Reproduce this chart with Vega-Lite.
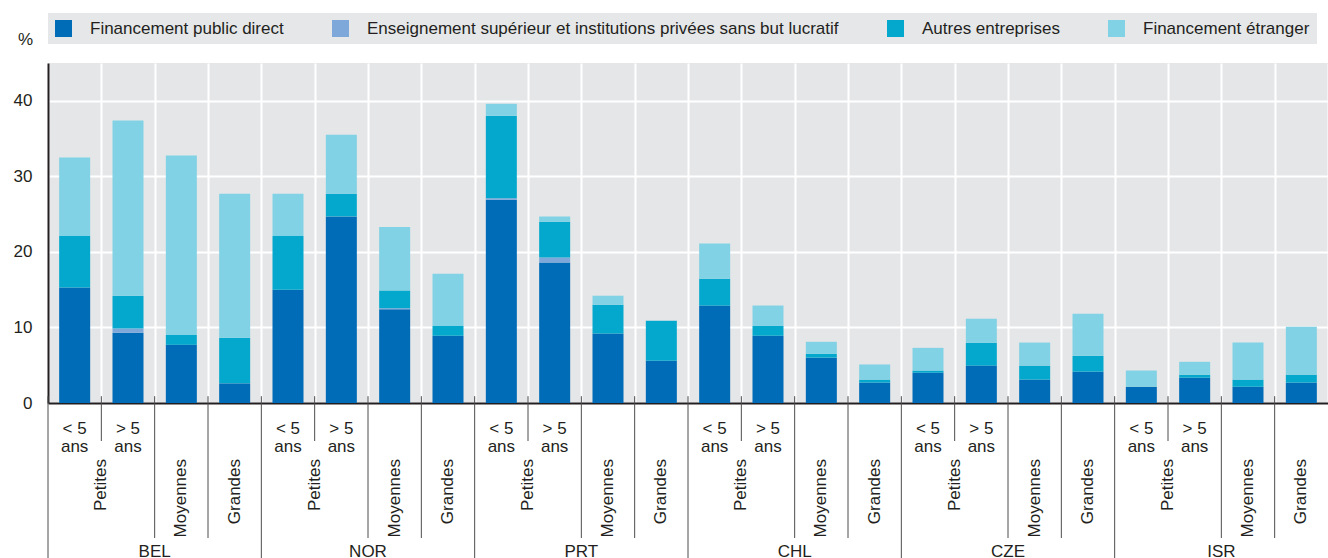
{
  "$schema": "https://vega.github.io/schema/vega-lite/v6.json",
  "width": 1280,
  "height": 340,
  "autosize": "none",
  "padding": {"left": 48, "top": 63, "right": 0, "bottom": 155},
  "background": "#ffffff",
  "config": {
    "view": {"fill": "#e5e6e8", "stroke": null},
    "font": "Liberation Sans",
    "axis": {"labelFont": "Liberation Sans", "labelFontSize": 17, "labelColor": "#231f20", "titleFont": "Liberation Sans", "titleFontSize": 17, "titleFontWeight": "normal", "titleColor": "#231f20"},
    "axisY": {"tickCount": 9, "gridColor": "#ffffff", "gridWidth": 2, "domainColor": "#231f20", "domainWidth": 2, "ticks": false, "labelPadding": 16},
    "legend": {
      "orient": "top", "direction": "horizontal", "title": null,
      "fillColor": "#e6e7e9", "padding": 7, "offset": 19, "columnPadding": 48,
      "labelFont": "Liberation Sans", "labelFontSize": 17, "labelColor": "#231f20", "labelLimit": 800,
      "symbolType": "square", "symbolSize": 289, "symbolStrokeWidth": 0, "symbolOpacity": 1, "labelOffset": 18
    }
  },
  "datasets": {
    "valeurs": [
      {"barre": "BEL Petites < 5 ans", "serie": "Financement public direct", "ordre": 1, "valeur": 15.3},
      {"barre": "BEL Petites < 5 ans", "serie": "Autres entreprises", "ordre": 3, "valeur": 6.8},
      {"barre": "BEL Petites < 5 ans", "serie": "Financement étranger", "ordre": 4, "valeur": 10.4},
      {"barre": "BEL Petites > 5 ans", "serie": "Financement public direct", "ordre": 1, "valeur": 9.3},
      {"barre": "BEL Petites > 5 ans", "serie": "Enseignement supérieur et institutions privées sans but lucratif", "ordre": 2, "valeur": 0.55},
      {"barre": "BEL Petites > 5 ans", "serie": "Autres entreprises", "ordre": 3, "valeur": 4.35},
      {"barre": "BEL Petites > 5 ans", "serie": "Financement étranger", "ordre": 4, "valeur": 23.2},
      {"barre": "BEL Moyennes", "serie": "Financement public direct", "ordre": 1, "valeur": 7.7},
      {"barre": "BEL Moyennes", "serie": "Autres entreprises", "ordre": 3, "valeur": 1.3},
      {"barre": "BEL Moyennes", "serie": "Financement étranger", "ordre": 4, "valeur": 23.75},
      {"barre": "BEL Grandes", "serie": "Financement public direct", "ordre": 1, "valeur": 2.6},
      {"barre": "BEL Grandes", "serie": "Autres entreprises", "ordre": 3, "valeur": 6.05},
      {"barre": "BEL Grandes", "serie": "Financement étranger", "ordre": 4, "valeur": 19.05},
      {"barre": "NOR Petites < 5 ans", "serie": "Financement public direct", "ordre": 1, "valeur": 15.0},
      {"barre": "NOR Petites < 5 ans", "serie": "Autres entreprises", "ordre": 3, "valeur": 7.1},
      {"barre": "NOR Petites < 5 ans", "serie": "Financement étranger", "ordre": 4, "valeur": 5.6},
      {"barre": "NOR Petites > 5 ans", "serie": "Financement public direct", "ordre": 1, "valeur": 24.7},
      {"barre": "NOR Petites > 5 ans", "serie": "Autres entreprises", "ordre": 3, "valeur": 3.0},
      {"barre": "NOR Petites > 5 ans", "serie": "Financement étranger", "ordre": 4, "valeur": 7.8},
      {"barre": "NOR Moyennes", "serie": "Financement public direct", "ordre": 1, "valeur": 12.4},
      {"barre": "NOR Moyennes", "serie": "Enseignement supérieur et institutions privées sans but lucratif", "ordre": 2, "valeur": 0.15},
      {"barre": "NOR Moyennes", "serie": "Autres entreprises", "ordre": 3, "valeur": 2.35},
      {"barre": "NOR Moyennes", "serie": "Financement étranger", "ordre": 4, "valeur": 8.4},
      {"barre": "NOR Grandes", "serie": "Financement public direct", "ordre": 1, "valeur": 8.9},
      {"barre": "NOR Grandes", "serie": "Autres entreprises", "ordre": 3, "valeur": 1.3},
      {"barre": "NOR Grandes", "serie": "Financement étranger", "ordre": 4, "valeur": 6.9},
      {"barre": "PRT Petites < 5 ans", "serie": "Financement public direct", "ordre": 1, "valeur": 26.9},
      {"barre": "PRT Petites < 5 ans", "serie": "Enseignement supérieur et institutions privées sans but lucratif", "ordre": 2, "valeur": 0.2},
      {"barre": "PRT Petites < 5 ans", "serie": "Autres entreprises", "ordre": 3, "valeur": 10.9},
      {"barre": "PRT Petites < 5 ans", "serie": "Financement étranger", "ordre": 4, "valeur": 1.6},
      {"barre": "PRT Petites > 5 ans", "serie": "Financement public direct", "ordre": 1, "valeur": 18.6},
      {"barre": "PRT Petites > 5 ans", "serie": "Enseignement supérieur et institutions privées sans but lucratif", "ordre": 2, "valeur": 0.65},
      {"barre": "PRT Petites > 5 ans", "serie": "Autres entreprises", "ordre": 3, "valeur": 4.75},
      {"barre": "PRT Petites > 5 ans", "serie": "Financement étranger", "ordre": 4, "valeur": 0.7},
      {"barre": "PRT Moyennes", "serie": "Financement public direct", "ordre": 1, "valeur": 9.2},
      {"barre": "PRT Moyennes", "serie": "Autres entreprises", "ordre": 3, "valeur": 3.8},
      {"barre": "PRT Moyennes", "serie": "Financement étranger", "ordre": 4, "valeur": 1.2},
      {"barre": "PRT Grandes", "serie": "Financement public direct", "ordre": 1, "valeur": 5.6},
      {"barre": "PRT Grandes", "serie": "Autres entreprises", "ordre": 3, "valeur": 5.3},
      {"barre": "CHL Petites < 5 ans", "serie": "Financement public direct", "ordre": 1, "valeur": 12.9},
      {"barre": "CHL Petites < 5 ans", "serie": "Autres entreprises", "ordre": 3, "valeur": 3.55},
      {"barre": "CHL Petites < 5 ans", "serie": "Financement étranger", "ordre": 4, "valeur": 4.65},
      {"barre": "CHL Petites > 5 ans", "serie": "Financement public direct", "ordre": 1, "valeur": 8.9},
      {"barre": "CHL Petites > 5 ans", "serie": "Autres entreprises", "ordre": 3, "valeur": 1.3},
      {"barre": "CHL Petites > 5 ans", "serie": "Financement étranger", "ordre": 4, "valeur": 2.7},
      {"barre": "CHL Moyennes", "serie": "Financement public direct", "ordre": 1, "valeur": 6.0},
      {"barre": "CHL Moyennes", "serie": "Autres entreprises", "ordre": 3, "valeur": 0.5},
      {"barre": "CHL Moyennes", "serie": "Financement étranger", "ordre": 4, "valeur": 1.6},
      {"barre": "CHL Grandes", "serie": "Financement public direct", "ordre": 1, "valeur": 2.7},
      {"barre": "CHL Grandes", "serie": "Autres entreprises", "ordre": 3, "valeur": 0.4},
      {"barre": "CHL Grandes", "serie": "Financement étranger", "ordre": 4, "valeur": 2.0},
      {"barre": "CZE Petites < 5 ans", "serie": "Financement public direct", "ordre": 1, "valeur": 4.0},
      {"barre": "CZE Petites < 5 ans", "serie": "Autres entreprises", "ordre": 3, "valeur": 0.3},
      {"barre": "CZE Petites < 5 ans", "serie": "Financement étranger", "ordre": 4, "valeur": 3.0},
      {"barre": "CZE Petites > 5 ans", "serie": "Financement public direct", "ordre": 1, "valeur": 4.95},
      {"barre": "CZE Petites > 5 ans", "serie": "Autres entreprises", "ordre": 3, "valeur": 3.0},
      {"barre": "CZE Petites > 5 ans", "serie": "Financement étranger", "ordre": 4, "valeur": 3.2},
      {"barre": "CZE Moyennes", "serie": "Financement public direct", "ordre": 1, "valeur": 3.1},
      {"barre": "CZE Moyennes", "serie": "Autres entreprises", "ordre": 3, "valeur": 1.85},
      {"barre": "CZE Moyennes", "serie": "Financement étranger", "ordre": 4, "valeur": 3.05},
      {"barre": "CZE Grandes", "serie": "Financement public direct", "ordre": 1, "valeur": 4.15},
      {"barre": "CZE Grandes", "serie": "Autres entreprises", "ordre": 3, "valeur": 2.1},
      {"barre": "CZE Grandes", "serie": "Financement étranger", "ordre": 4, "valeur": 5.55},
      {"barre": "ISR Petites < 5 ans", "serie": "Financement public direct", "ordre": 1, "valeur": 2.15},
      {"barre": "ISR Petites < 5 ans", "serie": "Financement étranger", "ordre": 4, "valeur": 2.15},
      {"barre": "ISR Petites > 5 ans", "serie": "Financement public direct", "ordre": 1, "valeur": 3.35},
      {"barre": "ISR Petites > 5 ans", "serie": "Autres entreprises", "ordre": 3, "valeur": 0.4},
      {"barre": "ISR Petites > 5 ans", "serie": "Financement étranger", "ordre": 4, "valeur": 1.7},
      {"barre": "ISR Moyennes", "serie": "Financement public direct", "ordre": 1, "valeur": 2.15},
      {"barre": "ISR Moyennes", "serie": "Autres entreprises", "ordre": 3, "valeur": 0.95},
      {"barre": "ISR Moyennes", "serie": "Financement étranger", "ordre": 4, "valeur": 4.9},
      {"barre": "ISR Grandes", "serie": "Financement public direct", "ordre": 1, "valeur": 2.7},
      {"barre": "ISR Grandes", "serie": "Autres entreprises", "ordre": 3, "valeur": 1.05},
      {"barre": "ISR Grandes", "serie": "Financement étranger", "ordre": 4, "valeur": 6.35}
    ],
    "ages": [
      {"barre": "BEL Petites < 5 ans", "texte": "< 5\nans"}, {"barre": "BEL Petites > 5 ans", "texte": "> 5\nans"},
      {"barre": "NOR Petites < 5 ans", "texte": "< 5\nans"}, {"barre": "NOR Petites > 5 ans", "texte": "> 5\nans"},
      {"barre": "PRT Petites < 5 ans", "texte": "< 5\nans"}, {"barre": "PRT Petites > 5 ans", "texte": "> 5\nans"},
      {"barre": "CHL Petites < 5 ans", "texte": "< 5\nans"}, {"barre": "CHL Petites > 5 ans", "texte": "> 5\nans"},
      {"barre": "CZE Petites < 5 ans", "texte": "< 5\nans"}, {"barre": "CZE Petites > 5 ans", "texte": "> 5\nans"},
      {"barre": "ISR Petites < 5 ans", "texte": "< 5\nans"}, {"barre": "ISR Petites > 5 ans", "texte": "> 5\nans"}
    ],
    "petites": [
      {"barre": "BEL Petites < 5 ans", "texte": "Petites"}, {"barre": "NOR Petites < 5 ans", "texte": "Petites"},
      {"barre": "PRT Petites < 5 ans", "texte": "Petites"}, {"barre": "CHL Petites < 5 ans", "texte": "Petites"},
      {"barre": "CZE Petites < 5 ans", "texte": "Petites"}, {"barre": "ISR Petites < 5 ans", "texte": "Petites"}
    ],
    "autres_tailles": [
      {"barre": "BEL Moyennes", "texte": "Moyennes"}, {"barre": "BEL Grandes", "texte": "Grandes"},
      {"barre": "NOR Moyennes", "texte": "Moyennes"}, {"barre": "NOR Grandes", "texte": "Grandes"},
      {"barre": "PRT Moyennes", "texte": "Moyennes"}, {"barre": "PRT Grandes", "texte": "Grandes"},
      {"barre": "CHL Moyennes", "texte": "Moyennes"}, {"barre": "CHL Grandes", "texte": "Grandes"},
      {"barre": "CZE Moyennes", "texte": "Moyennes"}, {"barre": "CZE Grandes", "texte": "Grandes"},
      {"barre": "ISR Moyennes", "texte": "Moyennes"}, {"barre": "ISR Grandes", "texte": "Grandes"}
    ],
    "pays": [
      {"barre": "BEL Petites > 5 ans", "texte": "BEL"}, {"barre": "NOR Petites > 5 ans", "texte": "NOR"},
      {"barre": "PRT Petites > 5 ans", "texte": "PRT"}, {"barre": "CHL Petites > 5 ans", "texte": "CHL"},
      {"barre": "CZE Petites > 5 ans", "texte": "CZE"}, {"barre": "ISR Petites > 5 ans", "texte": "ISR"}
    ]
  },
  "layer": [
    {
      "data": {"name": "valeurs"},
      "mark": {"type": "bar", "width": 31},
      "encoding": {
        "x": {"field": "barre", "type": "nominal", "sort": null,
          "scale": {"paddingInner": 0, "paddingOuter": 0, "domain": [
            "BEL Petites < 5 ans", "BEL Petites > 5 ans", "BEL Moyennes", "BEL Grandes",
            "NOR Petites < 5 ans", "NOR Petites > 5 ans", "NOR Moyennes", "NOR Grandes",
            "PRT Petites < 5 ans", "PRT Petites > 5 ans", "PRT Moyennes", "PRT Grandes",
            "CHL Petites < 5 ans", "CHL Petites > 5 ans", "CHL Moyennes", "CHL Grandes",
            "CZE Petites < 5 ans", "CZE Petites > 5 ans", "CZE Moyennes", "CZE Grandes",
            "ISR Petites < 5 ans", "ISR Petites > 5 ans", "ISR Moyennes", "ISR Grandes"]},
          "axis": {"orient": "bottom", "title": null, "tickBand": "extent", "grid": true, "gridColor": "#ffffff", "gridWidth": 2,
            "ticks": false, "labels": false, "domain": true, "domainColor": "#231f20", "domainWidth": 2}},
        "y": {"field": "valeur", "type": "quantitative", "stack": "zero", "title": "%",
          "scale": {"domain": [0, 45], "nice": false},
          "axis": {"values": [0, 5, 10, 15, 20, 25, 30, 35, 40, 45], "titleAngle": 0, "titleAlign": "center", "titleBaseline": "alphabetic", "titleX": -23, "titleY": -19,
            "domainColor": "#231f20", "domainWidth": 2, "ticks": false, "labelPadding": 16,
            "gridColor": "#ffffff", "gridWidth": 2}},
        "color": {"field": "serie", "type": "nominal",
          "scale": {"domain": ["Financement public direct", "Enseignement supérieur et institutions privées sans but lucratif", "Autres entreprises", "Financement étranger"],
                    "range": ["#006bb6", "#7ea7da", "#04a8cc", "#80d2e4"]}},
        "order": {"field": "ordre", "type": "quantitative", "sort": "ascending"}
      }
    },
    {
      "data": {"name": "pays"},
      "mark": {"type": "rule", "color": "#4d4d4d", "strokeWidth": 1},
      "encoding": {
        "x": {"field": "barre", "type": "nominal", "bandPosition": 0},
        "y": {"datum": 0.9, "title": "%"},
        "y2": {"datum": -5.03}
      }
    },
    {
      "data": {"name": "autres_tailles"},
      "mark": {"type": "rule", "color": "#4d4d4d", "strokeWidth": 1},
      "encoding": {
        "x": {"field": "barre", "type": "nominal", "bandPosition": 0},
        "y": {"datum": 0.9, "title": "%"},
        "y2": {"datum": -17.87}
      }
    },
    {
      "data": {"name": "petites"},
      "mark": {"type": "rule", "color": "#4d4d4d", "strokeWidth": 1},
      "encoding": {
        "x": {"field": "barre", "type": "nominal", "bandPosition": 0},
        "y": {"datum": 0.9, "title": "%"},
        "y2": {"datum": -21.5}
      }
    },
    {
      "data": {"name": "ages"},
      "mark": {"type": "text", "font": "Liberation Sans", "fontSize": 17, "color": "#231f20", "align": "center", "baseline": "alphabetic", "lineBreak": "\n", "lineHeight": 18},
      "encoding": {
        "x": {"field": "barre", "type": "nominal"},
        "y": {"datum": -4.1, "title": "%"},
        "text": {"field": "texte", "type": "nominal"}
      }
    },
    {
      "data": {"name": "autres_tailles"},
      "mark": {"type": "text", "font": "Liberation Sans", "fontSize": 17, "color": "#231f20", "angle": 270, "align": "right", "baseline": "middle"},
      "encoding": {
        "x": {"field": "barre", "type": "nominal"},
        "y": {"datum": -7.41, "title": "%"},
        "text": {"field": "texte", "type": "nominal"}
      }
    },
    {
      "data": {"name": "petites"},
      "mark": {"type": "text", "font": "Liberation Sans", "fontSize": 17, "color": "#231f20", "angle": 270, "align": "right", "baseline": "middle", "xOffset": 26.67},
      "encoding": {
        "x": {"field": "barre", "type": "nominal"},
        "y": {"datum": -7.41, "title": "%"},
        "text": {"field": "texte", "type": "nominal"}
      }
    },
    {
      "data": {"name": "pays"},
      "mark": {"type": "text", "font": "Liberation Sans", "fontSize": 17, "color": "#231f20", "align": "center", "baseline": "top", "xOffset": 26.67},
      "encoding": {
        "x": {"field": "barre", "type": "nominal"},
        "y": {"datum": -18.65, "title": "%"},
        "text": {"field": "texte", "type": "nominal"}
      }
    }
  ]
}
